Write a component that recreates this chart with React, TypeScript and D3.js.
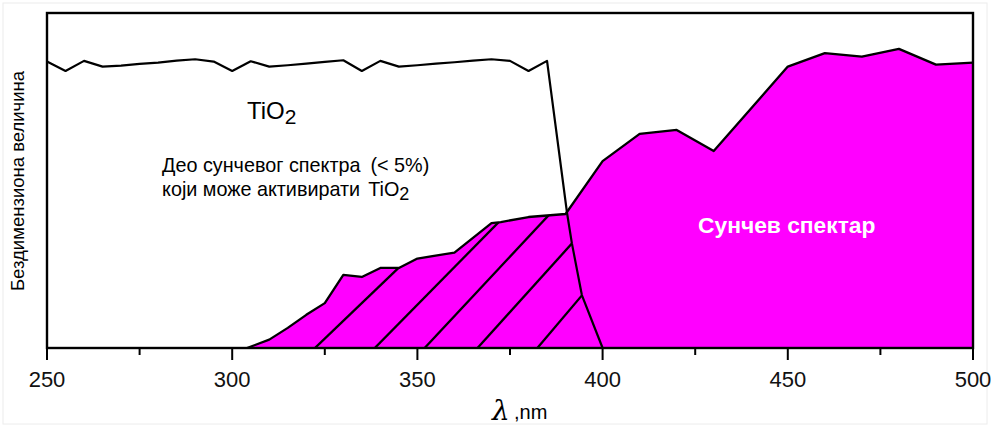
import React from 'react';
import * as d3 from 'd3';

const W = 992;
const H = 427;

const xMajorTicks = [250, 300, 350, 400, 450, 500];
const xMinorTicks = [275, 325, 375, 425, 475];

// TiO2 absorption curve (dimensionless, 0..100)
const tio2Nm = [250, 255, 260, 265, 270, 275, 280, 285, 290, 295, 300, 305, 310, 315, 320, 325, 330, 335, 340, 345, 350, 355, 360, 365, 370, 375, 380, 385, 390.4, 391.7, 394.4, 400];
const tio2Val = [85.5, 82.7, 85.7, 84.0, 84.3, 84.8, 85.2, 85.8, 86.2, 85.5, 82.7, 85.6, 84.0, 84.4, 84.9, 85.4, 85.9, 82.7, 85.7, 84.0, 84.4, 84.9, 85.3, 85.8, 86.2, 85.7, 82.7, 85.7, 40.3, 31.3, 15.8, 0];

// Solar spectrum (dimensionless, 0..100)
const sunNm = [304, 310, 315, 320, 325, 330, 335, 340, 345, 350, 360, 370, 372.5, 380, 390, 400, 410, 420, 430, 450, 460, 470, 480, 490, 500];
const sunVal = [0, 2.5, 6.0, 9.9, 13.4, 21.8, 21.2, 23.9, 23.9, 26.7, 28.5, 37.3, 37.6, 39.1, 40.0, 55.8, 63.9, 65.1, 58.8, 84.0, 88.0, 87.0, 89.3, 84.6, 85.2];

// Hatch lines: start wavelength on the baseline, end wavelength on the upper boundary
const hatchStart = [321.5, 337.7, 351.2, 365.5, 381.7];
const hatchEnd = [344.8, 371.8, 385.3, 391.7, 394.4];

function interp(xs: number[], ys: number[], x: number): number {
  if (x <= xs[0]) return ys[0];
  if (x >= xs[xs.length - 1]) return ys[ys.length - 1];
  for (let i = 1; i < xs.length; i++) {
    if (x <= xs[i]) {
      const t = (x - xs[i - 1]) / (xs[i] - xs[i - 1]);
      return ys[i - 1] + t * (ys[i] - ys[i - 1]);
    }
  }
  return 0;
}

export default function App() {
  const x = d3.scaleLinear().domain([250, 500]).range([47, 973]);
  const y = d3.scaleLinear().domain([0, 100]).range([348, 13]);

  const tio2 = tio2Nm.map((n, i) => [n, tio2Val[i]] as [number, number]);
  const sun = sunNm.map((n, i) => [n, sunVal[i]] as [number, number]);

  const line = d3.line<[number, number]>().x(d => x(d[0])).y(d => y(d[1]));
  const area = d3.area<[number, number]>().x(d => x(d[0])).y0(y(0)).y1(d => y(d[1]));

  const sunArea = area(sun) || '';
  const tioArea = area(tio2) || '';

  const hatches = hatchStart.map((s, i) => {
    const e = hatchEnd[i];
    const ev = Math.min(interp(sunNm, sunVal, e), interp(tio2Nm, tio2Val, e));
    const x1 = x(s), y1 = y(0);
    const x2 = x(e), y2 = y(ev);
    const k = 1.15;
    return { x1, y1: y1 + 3, x2: x1 + (x2 - x1) * k, y2: y1 + (y2 - y1) * k };
  });

  const font = "'Liberation Sans', Arial, sans-serif";

  return (
    <svg width={W} height={H} style={{ position: 'absolute', left: 0, top: 0, background: '#fff' }}>
      <rect x={3} y={3} width={W - 8} height={H - 6} fill="none" stroke="#ececec" strokeWidth={1} />
      <defs>
        <clipPath id="clipSun"><path d={sunArea} /></clipPath>
        <clipPath id="clipTio"><path d={tioArea} /></clipPath>
      </defs>
      <path d={sunArea} fill="#ff00ff" />
      <g clipPath="url(#clipSun)">
        <g clipPath="url(#clipTio)">
          {hatches.map((h, i) => (
            <line key={i} x1={h.x1} y1={h.y1} x2={h.x2} y2={h.y2} stroke="#000" strokeWidth={2.3} />
          ))}
        </g>
      </g>
      <path d={line(sun) || ''} fill="none" stroke="#000" strokeWidth={2.3} strokeLinejoin="round" />
      <path d={line(tio2) || ''} fill="none" stroke="#000" strokeWidth={2.2} strokeLinejoin="round" />
      <rect x={x(250)} y={y(100)} width={x(500) - x(250)} height={y(0) - y(100)} fill="none" stroke="#000" strokeWidth={2.4} />
      {xMajorTicks.map(t => (
        <g key={'M' + t}>
          <line x1={x(t)} x2={x(t)} y1={y(0)} y2={y(0) + 12} stroke="#000" strokeWidth={2} />
          <text x={x(t)} y={387} textAnchor="middle" fontFamily={font} fontSize={22} fill="#111">{t}</text>
        </g>
      ))}
      {xMinorTicks.map(t => (
        <line key={'m' + t} x1={x(t)} x2={x(t)} y1={y(0)} y2={y(0) + 7} stroke="#000" strokeWidth={2} />
      ))}
      <text x={492} y={420} fontFamily="'DejaVu Serif', 'Liberation Serif', serif" fontStyle="italic" fontSize={28} fill="#000">λ</text>
      <text x={514} y={419} fontFamily={font} fontSize={20} fill="#000">,nm</text>
      <text transform="translate(24,181) rotate(-90)" textAnchor="middle" fontFamily={font} fontSize={18.5} fill="#000">Бездимензиона величина</text>
      <text x={247} y={119} fontFamily={font} fontSize={24} fill="#000">TiO<tspan fontSize={21} dy={5}>2</tspan></text>
      <text x={162} y={172} fontFamily={font} fontSize={19.8} fill="#000">Део сунчевог спектра<tspan dx={10}>(&lt; 5%)</tspan></text>
      <text x={162} y={196} fontFamily={font} fontSize={19.8} fill="#000">који може активирати<tspan dx={8}>TiO</tspan><tspan fontSize={18} dy={4}>2</tspan></text>
      <text x={698} y={233} fontFamily={font} fontSize={22.8} fontWeight="bold" fill="#fff">Сунчев спектар</text>
    </svg>
  );
}
